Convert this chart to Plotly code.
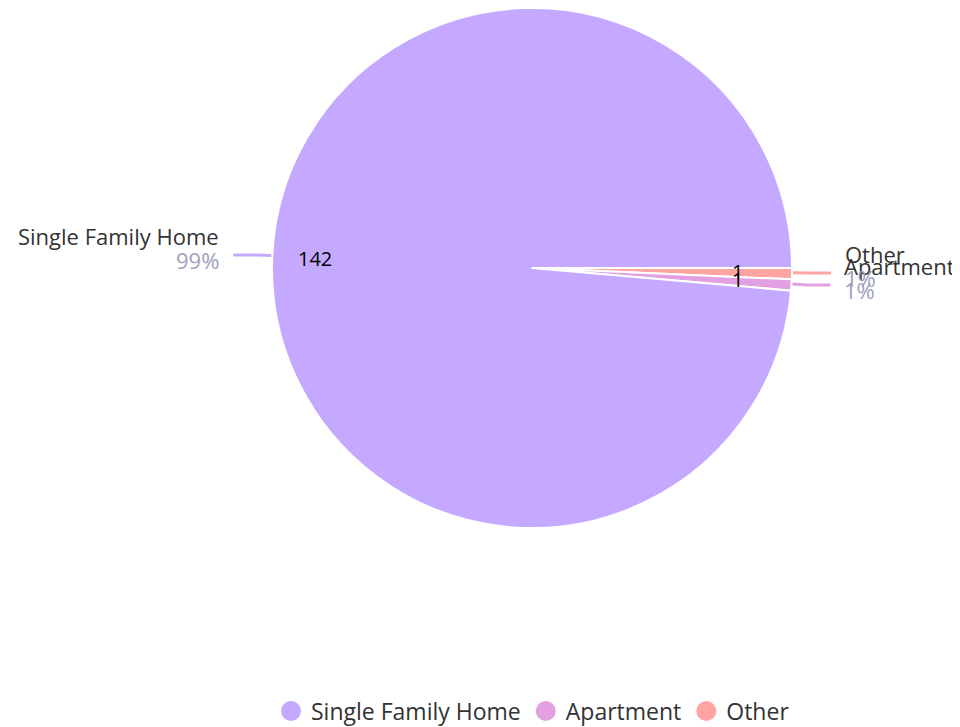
import math
import plotly.graph_objects as go

labels = ["Single Family Home", "Apartment", "Other"]
values = [142, 1, 1]
colors = ["#c5a8ff", "#e2a0e2", "#ffa3a3"]
pct_text = ["99%", "1%", "1%"]

# the page body adds an 8px margin, so the figure is a bit smaller than the window
OFF = 8
W, H = 960 - OFF, 727 - OFF
MB = 60  # bottom margin for the legend
PH = H - MB

# pie geometry in window pixels
cx, cy, R = 532, 267, 261
FONT = "'Open Sans', sans-serif"


def px(x):
    return (x - OFF) / W


def py(y):
    return 1 - (y - OFF) / PH


# the top of the pie sits right at the figure's top edge
r_pie = (cy + R - OFF) / 2
fig = go.Figure()
# pie drawn clockwise from 3 o'clock, so feed slices in reverse to go counterclockwise
fig.add_trace(go.Pie(
    labels=labels[::-1],
    values=values[::-1],
    marker=dict(colors=colors[::-1], line=dict(color="white", width=2)),
    textinfo="none",
    sort=False,
    direction="clockwise",
    rotation=90,
    showlegend=False,
    hoverinfo="label+value+percent",
    domain=dict(x=[px(cx - r_pie), px(cx + r_pie)], y=[py(cy + R), 1]),
))

# legend entries with round markers
for lab, col in zip(labels, colors):
    fig.add_trace(go.Scatter(
        x=[None], y=[None], mode="markers", name=lab,
        marker=dict(color=col, size=24, symbol="circle", line=dict(color=col, width=4)),
    ))

# outside labels with leader lines, and values inside the slices
total = sum(values)
cum = 0
shapes = []
annotations = []
for lab, val, col, pct in zip(labels, values, colors, pct_text):
    mid = math.radians((cum + val / 2) / total * 360)
    cum += val
    c, s = math.cos(mid), math.sin(mid)
    side = 1 if c >= 0 else -1
    x0, y0 = cx + R * c, cy - R * s
    x1, y1 = cx + (R + 15) * c, cy - (R + 15) * s
    x2, y2 = x1 + side * 23, y1
    shapes.append(dict(
        type="path", xref="paper", yref="paper",
        path=f"M {px(x0)},{py(y0)} L {px(x1)},{py(y1)} L {px(x2)},{py(y2)}",
        line=dict(color=col, width=3),
    ))
    xt = x2 + side * 12
    anchor = "left" if side > 0 else "right"
    annotations.append(dict(
        x=px(xt), y=py(y2 - 19), xref="paper", yref="paper", text=lab,
        showarrow=False, xanchor=anchor, yanchor="middle",
        font=dict(size=22, color="#333333", family=FONT),
    ))
    annotations.append(dict(
        x=px(xt), y=py(y2 + 5), xref="paper", yref="paper", text=pct,
        showarrow=False, xanchor=anchor, yanchor="middle",
        font=dict(size=22, color="#9e9ebf", family=FONT),
    ))
    # value label anchored on its inner side, extending outwards
    xv, yv = cx + 0.76 * R * c, cy - 0.76 * R * s
    annotations.append(dict(
        x=px(xv), y=py(yv), xref="paper", yref="paper", text=str(val),
        showarrow=False, xanchor=anchor, yanchor="middle",
        font=dict(size=20, color="#000000", family=FONT),
    ))

fig.update_layout(
    width=W, height=H,
    margin=dict(l=0, r=0, t=0, b=MB),
    paper_bgcolor="white",
    plot_bgcolor="white",
    xaxis=dict(visible=False),
    yaxis=dict(visible=False),
    shapes=shapes,
    annotations=annotations,
    legend=dict(
        orientation="h", xref="container", yref="container",
        x=(533 - OFF) / W, xanchor="center", y=1 - (711 - OFF) / H, yanchor="middle",
        font=dict(size=23, color="#333333", family=FONT),
        itemsizing="trace",
    ),
)

fig.write_html("out.html")
